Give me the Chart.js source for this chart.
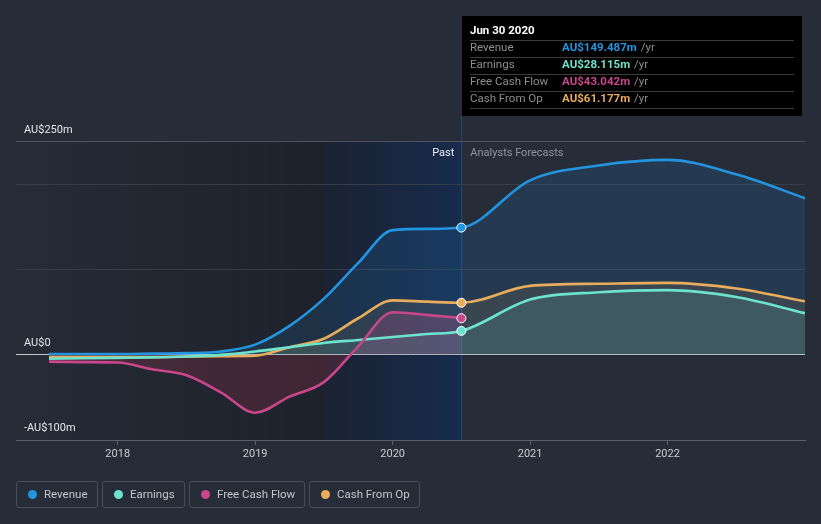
<!DOCTYPE html>
<html><head><meta charset="utf-8">
<script src="https://cdn.jsdelivr.net/npm/chart.js@4"></script>
<style>
html,body{margin:0;padding:0;background:#262c38;width:821px;height:524px;overflow:hidden;font-family:Roboto,'Open Sans',sans-serif}
#wrap{position:relative;width:821px;height:524px}
#c{position:absolute;left:0;top:0}
.leg{position:absolute;top:481px;height:27px;border:1px solid #474d59;border-radius:3px;box-sizing:border-box;color:#c3c7cd;font-size:11.5px;line-height:25px;padding-left:27px;white-space:nowrap}
.leg i{position:absolute;left:11px;top:8px;width:9px;height:9px;border-radius:50%}
</style></head>
<body><div id="wrap"><canvas id="c" width="821" height="524"></canvas>
<div id="legend"></div></div>
<script>
// ---- data (values in AU$ millions, x in decimal years) ----
const pastYears = [2017.5,2017.75,2018,2018.25,2018.5,2018.75,2019,2019.25,2019.5,2019.75,2020,2020.25,2020.5];
const forecastYears = [2021,2021.5,2022,2022.5,2023];
const revenuePast = [1,1,1,1.5,2,4,12,34,66,108,146.5,148,149.487];
const revenueForecast = [205,222.5,229,212,184];
const earningsPast = [-4.5,-4,-3.5,-3,-2,0,4,9,14,17.5,21,24.5,28.115];
const earningsForecast = [65,73.5,76,68,49];
const cfoPast = [-2.5,-2.5,-2.5,-2.5,-2,-1.5,-1,9,19,43,64,62.5,61.177];
const cfoForecast = [81,83.5,84.5,78,63];
const fcfPast = [-8,-8.5,-9,-17,-24,-44,-68,-49,-32,10,50,47,43.042];
const tickYears = [2018,2019,2020,2021,2022];
const yGridValues = [250,200,100];
const yLabelValues = [250,0,-100];
const yLabelTexts = ['AU$250m','AU$0','-AU$100m'];
const pastWindow = [2019.5,2020.5];
const highlightX = 2020.5;
const seriesNames = ['Revenue','Earnings','Free Cash Flow','Cash From Op'];
const seriesColors = ['#2394e0','#6de3cd','#c8468a','#e8ac5c'];
const tooltipTitle = 'Jun 30 2020';
const tooltipValues = ['AU$149.487m','AU$28.115m','AU$43.042m','AU$61.177m'];
const FONT = "Roboto, 'Open Sans', sans-serif";

function pts(xs, ys){ return xs.map((x,i)=>({x, y: ys[i]})); }
const allYears = pastYears.concat(forecastYears);
const revenue = pts(allYears, revenuePast.concat(revenueForecast));
const earnings = pts(allYears, earningsPast.concat(earningsForecast));
const cfo = pts(allYears, cfoPast.concat(cfoForecast));
const fcf = pts(pastYears, fcfPast);

const ptR = c => (c.raw && c.raw.x === highlightX) ? 4.5 : 0;

const bgPlugin = {
  id:'bg',
  beforeDraw(chart){
    const {ctx, chartArea:a, scales:{x,y}} = chart;
    const xp0 = x.getPixelForValue(pastWindow[0]);
    const xp1 = x.getPixelForValue(pastWindow[1]);
    ctx.save();
    let g = ctx.createLinearGradient(a.left,0,xp0,0);
    g.addColorStop(0,'rgba(18,20,26,0)');
    g.addColorStop(1,'rgba(18,20,26,0.42)');
    ctx.fillStyle = g;
    ctx.fillRect(a.left,a.top,xp0-a.left,a.bottom-a.top);
    g = ctx.createLinearGradient(xp0,0,xp1,0);
    g.addColorStop(0,'#1b2232');
    g.addColorStop(1,'#172b4c');
    ctx.fillStyle = g;
    ctx.fillRect(xp0,a.top,xp1-xp0,a.bottom-a.top);
    ctx.strokeStyle = '#2c4670';
    ctx.lineWidth = 1;
    ctx.beginPath(); ctx.moveTo(Math.round(xp1)+0.5,116); ctx.lineTo(Math.round(xp1)+0.5,a.bottom); ctx.stroke();
    yGridValues.forEach(v=>{
      const py = Math.round(y.getPixelForValue(v))-0.5;
      ctx.strokeStyle = v===250 ? '#4d535f' : '#363c48';
      ctx.beginPath(); ctx.moveTo(a.left,py); ctx.lineTo(a.right,py); ctx.stroke();
    });
    const pz = Math.floor(y.getPixelForValue(0))+0.5;
    ctx.strokeStyle = '#c4c7cc';
    ctx.beginPath(); ctx.moveTo(a.left,pz); ctx.lineTo(a.right,pz); ctx.stroke();
    ctx.restore();
  },
  afterDraw(chart){
    const {ctx, chartArea:a, scales:{x,y}} = chart;
    ctx.save();
    ctx.font = '11px '+FONT;
    ctx.textBaseline = 'middle';
    ctx.fillStyle = '#e4e6ea';
    yLabelValues.forEach((v,i)=>{
      ctx.fillText(yLabelTexts[i], a.left+8, y.getPixelForValue(v)-12);
    });
    const xp1 = x.getPixelForValue(pastWindow[1]);
    ctx.textAlign = 'right';
    ctx.fillStyle = '#eef0f3';
    ctx.fillText('Past', xp1-7, a.top+11);
    ctx.textAlign = 'left';
    ctx.fillStyle = '#8f959e';
    ctx.fillText('Analysts Forecasts', xp1+9, a.top+11);
    const bx = Math.round(x.getPixelForValue(highlightX))+1;
    ctx.fillStyle = '#000000';
    ctx.fillRect(bx,16,340,100);
    ctx.fillStyle = '#ffffff';
    ctx.font = 'bold 11.5px '+FONT;
    ctx.fillText(tooltipTitle, bx+8, 31);
    ctx.strokeStyle = '#3c3c3c';
    ctx.lineWidth = 1;
    [40,57,74,91,108].forEach(ly=>{
      ctx.beginPath(); ctx.moveTo(bx+8,ly+0.5); ctx.lineTo(bx+332,ly+0.5); ctx.stroke();
    });
    seriesNames.forEach((n,i)=>{
      const ry = 48.5 + i*17;
      ctx.font = '11.5px '+FONT;
      ctx.fillStyle = '#8e8e8e';
      ctx.fillText(n, bx+8, ry);
      ctx.font = 'bold 11.5px '+FONT;
      ctx.fillStyle = seriesColors[i];
      ctx.fillText(tooltipValues[i], bx+100, ry);
      const w = ctx.measureText(tooltipValues[i]).width;
      ctx.font = '11.5px '+FONT;
      ctx.fillStyle = '#8e8e8e';
      ctx.fillText('/yr', bx+100+w+4, ry);
    });
    ctx.restore();
  }
};

const common = {pointBorderColor:'#ffffff', pointBorderWidth:1, pointRadius:ptR, pointHoverRadius:0};
new Chart(document.getElementById('c'), {
  type:'line',
  data:{datasets:[
    Object.assign({label:seriesNames[0], data:revenue, borderColor:seriesColors[0], backgroundColor:seriesColors[0], pointBackgroundColor:seriesColors[0],
     fill:{target:'origin', above:'rgba(35,148,224,0.14)', below:'rgba(35,148,224,0.14)'}, order:4}, common),
    Object.assign({label:seriesNames[3], data:cfo, borderColor:seriesColors[3], backgroundColor:seriesColors[3], pointBackgroundColor:seriesColors[3],
     fill:{target:'origin', above:'rgba(240,175,92,0.10)', below:'rgba(240,175,92,0.05)'}, order:3}, common),
    Object.assign({label:seriesNames[1], data:earnings, borderColor:seriesColors[1], backgroundColor:seriesColors[1], pointBackgroundColor:seriesColors[1],
     fill:{target:'origin', above:'rgba(110,227,205,0.12)', below:'rgba(110,227,205,0.05)'}, order:2}, common),
    Object.assign({label:seriesNames[2], data:fcf, borderColor:seriesColors[2], backgroundColor:seriesColors[2], pointBackgroundColor:seriesColors[2],
     fill:{target:'origin', above:'rgba(200,80,150,0.22)', below:'rgba(190,55,80,0.22)'}, order:1}, common)
  ]},
  options:{
    responsive:false, animation:false, events:[],
    layout:{padding:{left:16,right:16,top:142,bottom:60}},
    elements:{ line:{borderWidth:2.6, cubicInterpolationMode:'monotone'} },
    plugins:{legend:{display:false}, tooltip:{enabled:false}, filler:{drawTime:'beforeDatasetsDraw'}},
    scales:{
      x:{type:'linear', min:2017.26, max:2023.0,
         afterBuildTicks(s){ s.ticks = tickYears.map(v=>({value:v})); },
         afterFit(s){ s.height = 24; },
         grid:{display:true, drawOnChartArea:false, drawTicks:true, tickLength:5, color:'#5a606c'},
         border:{display:true, color:'#5a606c'},
         ticks:{color:'#c9ccd2', font:{family:FONT, size:11}, padding:3, callback:v=>String(v)}},
      y:{type:'linear', min:-100, max:250, display:false}
    }
  },
  plugins:[bgPlugin]
});

const legLeft = [16,102,189,309], legW = [82,83,116,111];
document.getElementById('legend').innerHTML = seriesNames.map((n,k)=>
  `<div class="leg" style="left:${legLeft[k]}px;width:${legW[k]}px"><i style="background:${seriesColors[k]}"></i>${n}</div>`).join('');
</script>
</body></html>
